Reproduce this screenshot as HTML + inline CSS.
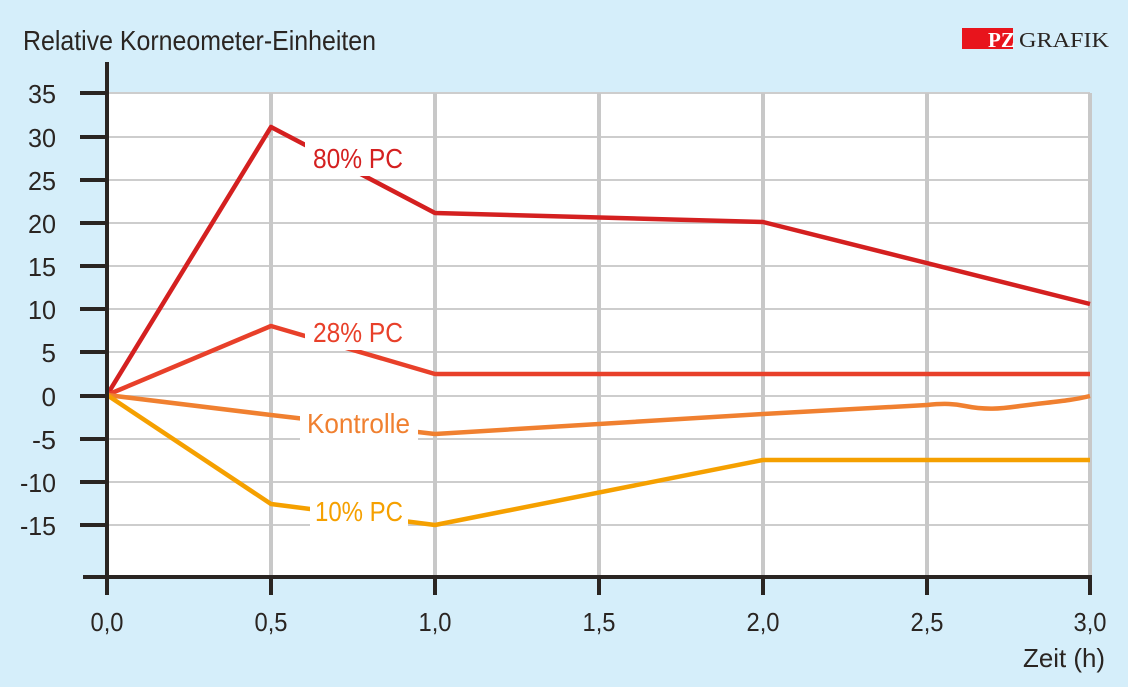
<!DOCTYPE html>
<html><head><meta charset="utf-8"><style>
html,body{margin:0;padding:0;background:#d5eefa;}
svg{display:block;font-family:"Liberation Sans",sans-serif;}
</style></head><body>
<svg width="1128" height="687" viewBox="0 0 1128 687">
<rect width="1128" height="687" fill="#d5eefa"/>
<rect x="107" y="93" width="983" height="484" fill="#fff"/>
<g stroke="#cdcdcd" stroke-width="2">
<line x1="107" y1="93" x2="1090" y2="93"/><line x1="107" y1="137" x2="1090" y2="137"/>
<line x1="107" y1="180" x2="1090" y2="180"/><line x1="107" y1="223" x2="1090" y2="223"/>
<line x1="107" y1="266" x2="1090" y2="266"/><line x1="107" y1="309" x2="1090" y2="309"/>
<line x1="107" y1="352" x2="1090" y2="352"/><line x1="107" y1="396" x2="1090" y2="396"/>
<line x1="107" y1="439" x2="1090" y2="439"/><line x1="107" y1="482" x2="1090" y2="482"/>
<line x1="107" y1="525" x2="1090" y2="525"/>
</g>
<g stroke="#c8c8c8" stroke-width="4">
<line x1="271" y1="93" x2="271" y2="577"/><line x1="435" y1="93" x2="435" y2="577"/>
<line x1="599" y1="93" x2="599" y2="577"/><line x1="763" y1="93" x2="763" y2="577"/>
<line x1="927" y1="93" x2="927" y2="577"/><line x1="1090" y1="93" x2="1090" y2="577"/>
</g>
<g fill="none" stroke-width="4.5" stroke-linejoin="round">
<polyline stroke="#d42020" points="107,395 271,127 435,213 763,222 1090,304"/>
<polyline stroke="#e8402a" points="107,395 271,326 435,374 1090,374"/>
<path stroke="#f08030" d="M107,395 L271,415 L435,434 L763,414 L927,405 C945,403 955,404 965,406 C985,410 1000,409 1020,406 C1050,402 1070,401 1090,396"/>
<polyline stroke="#f5a000" points="107,395 271,504 435,525 763,460 1090,460"/>
</g>
<g fill="#fff">
<rect x="305" y="142" width="100" height="34"/>
<rect x="305" y="316" width="100" height="34"/>
<rect x="300" y="406" width="118" height="34"/>
<rect x="310" y="494" width="98" height="34"/>
</g>
<g font-size="28">
<text x="313" y="168" fill="#d42020" textLength="90" lengthAdjust="spacingAndGlyphs">80% PC</text>
<text x="313" y="342" fill="#e8402a" textLength="90" lengthAdjust="spacingAndGlyphs">28% PC</text>
<text x="307" y="433" fill="#f08030" textLength="103" lengthAdjust="spacingAndGlyphs">Kontrolle</text>
<text x="315" y="521" fill="#f5a000" textLength="88" lengthAdjust="spacingAndGlyphs">10% PC</text>
</g>
<g stroke="#2a2522" stroke-width="4">
<line x1="107" y1="62" x2="107" y2="579"/>
<line x1="83" y1="577" x2="1092" y2="577"/>
<line x1="80" y1="93" x2="107" y2="93"/><line x1="80" y1="137" x2="107" y2="137"/>
<line x1="80" y1="180" x2="107" y2="180"/><line x1="80" y1="223" x2="107" y2="223"/>
<line x1="80" y1="266" x2="107" y2="266"/><line x1="80" y1="309" x2="107" y2="309"/>
<line x1="80" y1="352" x2="107" y2="352"/><line x1="80" y1="396" x2="107" y2="396"/>
<line x1="80" y1="439" x2="107" y2="439"/><line x1="80" y1="482" x2="107" y2="482"/>
<line x1="80" y1="525" x2="107" y2="525"/>
<line x1="107" y1="577" x2="107" y2="595"/><line x1="271" y1="577" x2="271" y2="595"/>
<line x1="435" y1="577" x2="435" y2="595"/><line x1="599" y1="577" x2="599" y2="595"/>
<line x1="763" y1="577" x2="763" y2="595"/><line x1="927" y1="577" x2="927" y2="595"/>
<line x1="1090" y1="577" x2="1090" y2="595"/>
</g>
<g font-size="26" fill="#2a2522" text-anchor="end">
<text x="56" y="103" textLength="28" lengthAdjust="spacingAndGlyphs">35</text><text x="56" y="147" textLength="28" lengthAdjust="spacingAndGlyphs">30</text><text x="56" y="190" textLength="28" lengthAdjust="spacingAndGlyphs">25</text>
<text x="56" y="233" textLength="28" lengthAdjust="spacingAndGlyphs">20</text><text x="56" y="276" textLength="28" lengthAdjust="spacingAndGlyphs">15</text><text x="56" y="319" textLength="28" lengthAdjust="spacingAndGlyphs">10</text>
<text x="56" y="362">5</text><text x="56" y="406">0</text><text x="56" y="449" textLength="24" lengthAdjust="spacingAndGlyphs">-5</text>
<text x="56" y="492" textLength="36" lengthAdjust="spacingAndGlyphs">-10</text><text x="56" y="535" textLength="36" lengthAdjust="spacingAndGlyphs">-15</text>
</g>
<g font-size="26" fill="#2a2522" text-anchor="middle">
<text x="107" y="631" textLength="33" lengthAdjust="spacingAndGlyphs">0,0</text><text x="271" y="631" textLength="33" lengthAdjust="spacingAndGlyphs">0,5</text><text x="435" y="631" textLength="33" lengthAdjust="spacingAndGlyphs">1,0</text>
<text x="599" y="631" textLength="33" lengthAdjust="spacingAndGlyphs">1,5</text><text x="763" y="631" textLength="33" lengthAdjust="spacingAndGlyphs">2,0</text><text x="927" y="631" textLength="33" lengthAdjust="spacingAndGlyphs">2,5</text>
<text x="1090" y="631" textLength="33" lengthAdjust="spacingAndGlyphs">3,0</text>
</g>
<text x="1023" y="667" font-size="26" fill="#2a2522" textLength="82" lengthAdjust="spacingAndGlyphs">Zeit (h)</text>
<text x="23" y="50" font-size="28" fill="#2a2522" textLength="353" lengthAdjust="spacingAndGlyphs">Relative Korneometer-Einheiten</text>
<rect x="962" y="28" width="51" height="21" fill="#e8141c"/>
<text x="988" y="47" font-family="Liberation Serif,serif" font-weight="bold" font-size="21" fill="#fff">PZ</text>
<text x="1019" y="47" font-family="Liberation Serif,serif" font-size="21" fill="#2a2522" textLength="90" lengthAdjust="spacingAndGlyphs">GRAFIK</text>
</svg>
</body></html>
